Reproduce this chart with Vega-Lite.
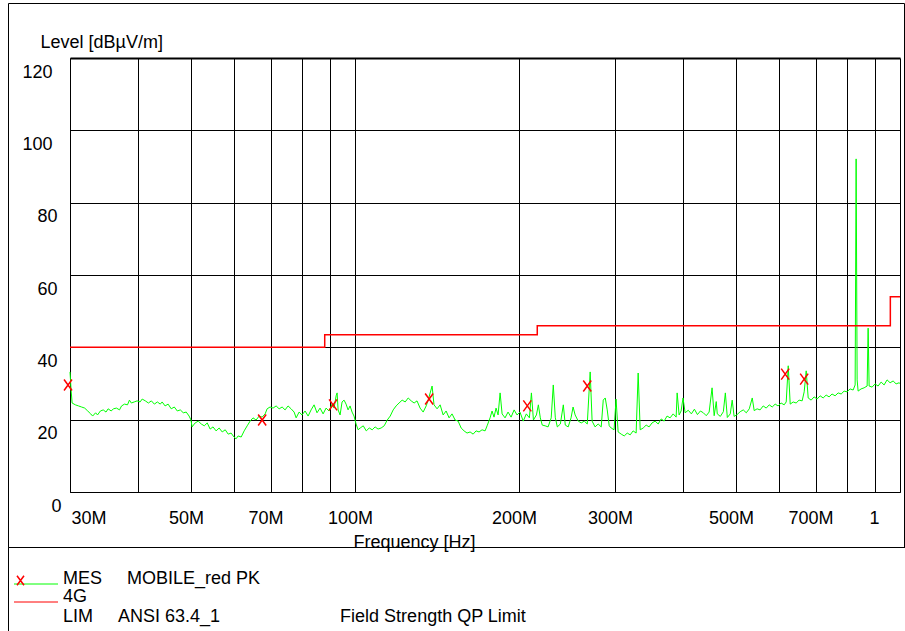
{
  "$schema": "https://vega.github.io/schema/vega-lite/v6.json",
  "width": 896,
  "height": 544,
  "autosize": {"type": "none"},
  "padding": {"left": 8, "top": 3, "right": 1, "bottom": 84},
  "background": "white",
  "config": {
    "view": {"stroke": "black", "strokeWidth": 1},
    "font": "Liberation Sans"
  },
  "datasets": {
    "limit": [
      {"f": 30, "l": 40}, {"f": 88, "l": 43.5}, {"f": 216, "l": 46}, {"f": 960, "l": 54}, {"f": 1000, "l": 54}
    ],
    "peaks": [
      {"f": 29.75, "l": 29.6}, {"f": 67.56, "l": 19.9}, {"f": 91.16, "l": 24.1}, {"f": 136.8, "l": 25.7},
      {"f": 207.1, "l": 23.8}, {"f": 266.8, "l": 29.3}, {"f": 615.7, "l": 32.6}, {"f": 667.1, "l": 31.2}
    ],
    "trace": [
      {"f":30.0,"l":33.2},{"f":30.14,"l":28.2},{"f":30.27,"l":24.6},{"f":30.69,"l":24.1},{"f":31.10,"l":23.8},{"f":31.51,"l":23.5},{"f":31.92,"l":23.2},{"f":32.33,"l":22.4},{"f":32.74,"l":21.6},{"f":33.01,"l":21.0},{"f":33.43,"l":21.9},{"f":33.70,"l":21.3},{"f":34.11,"l":22.4},{"f":34.52,"l":22.7},{"f":34.93,"l":22.1},{"f":35.24,"l":23.0},{"f":35.71,"l":22.4},{"f":36.03,"l":23.0},{"f":36.51,"l":23.2},{"f":36.98,"l":22.7},{"f":37.30,"l":23.8},{"f":37.77,"l":24.3},{"f":38.25,"l":24.1},{"f":38.56,"l":25.4},{"f":38.88,"l":24.6},{"f":39.35,"l":24.9},{"f":39.83,"l":25.2},{"f":40.34,"l":24.9},{"f":40.70,"l":25.7},{"f":41.24,"l":25.2},{"f":41.78,"l":24.6},{"f":42.31,"l":25.2},{"f":42.85,"l":24.3},{"f":43.39,"l":24.9},{"f":43.93,"l":24.3},{"f":44.28,"l":24.9},{"f":44.83,"l":23.8},{"f":45.41,"l":24.3},{"f":46.01,"l":23.0},{"f":46.61,"l":23.5},{"f":47.21,"l":22.4},{"f":47.81,"l":22.7},{"f":48.42,"l":21.9},{"f":49.02,"l":22.1},{"f":49.62,"l":21.0},{"f":50.02,"l":19.9},{"f":50.24,"l":18.0},
      {"f":50.91,"l":19.1},{"f":51.57,"l":19.6},{"f":52.24,"l":18.8},{"f":52.90,"l":18.3},{"f":53.57,"l":19.1},{"f":54.23,"l":17.4},{"f":54.90,"l":18.0},{"f":55.61,"l":16.9},{"f":56.34,"l":17.7},{"f":57.07,"l":16.6},{"f":57.80,"l":17.2},{"f":58.53,"l":16.0},{"f":59.25,"l":16.3},{"f":59.99,"l":15.2},{"f":60.51,"l":14.7},{"f":61.04,"l":15.5},{"f":61.83,"l":15.2},{"f":62.62,"l":16.9},{"f":63.42,"l":18.3},{"f":64.21,"l":19.6},{"f":65.0,"l":20.5},{"f":65.85,"l":19.9},{"f":66.71,"l":21.0},{"f":67.56,"l":20.7},{"f":68.42,"l":21.6},{"f":68.99,"l":23.0},{"f":69.84,"l":23.5},{"f":70.75,"l":23.2},{"f":71.67,"l":23.8},{"f":72.59,"l":23.0},{"f":73.51,"l":23.5},{"f":74.43,"l":22.7},{"f":75.37,"l":23.8},{"f":76.35,"l":23.0},{"f":77.33,"l":22.1},{"f":77.99,"l":20.5},{"f":78.97,"l":22.1},{"f":79.95,"l":21.3},{"f":80.99,"l":22.4},{"f":82.04,"l":21.0},{"f":83.08,"l":22.7},{"f":84.13,"l":24.1},{"f":85.18,"l":21.9},{"f":86.29,"l":23.2},{"f":87.40,"l":21.6},{"f":88.51,"l":23.2},{"f":89.62,"l":22.4},{"f":90.77,"l":24.3},{"f":91.55,"l":23.2},{"f":92.34,"l":26.6},{"f":92.73,"l":27.4},{"f":93.12,"l":22.7},{"f":93.90,"l":21.3},{"f":94.69,"l":24.9},{"f":95.49,"l":25.4},{"f":96.31,"l":24.3},{"f":97.13,"l":22.7},{"f":97.95,"l":23.8},{"f":98.78,"l":22.1},{"f":99.60,"l":21.0},{"f":100.46,"l":18.8},{"f":101.34,"l":17.2},
      {"f":102.23,"l":17.7},{"f":103.56,"l":18.3},{"f":104.89,"l":16.9},{"f":106.22,"l":17.7},{"f":107.55,"l":17.2},{"f":108.88,"l":18.0},{"f":110.23,"l":17.4},{"f":111.68,"l":17.7},{"f":113.14,"l":18.3},{"f":114.60,"l":19.9},{"f":116.06,"l":21.0},{"f":117.51,"l":22.7},{"f":118.97,"l":23.8},{"f":120.46,"l":24.6},{"f":122.05,"l":25.4},{"f":123.63,"l":24.9},{"f":125.21,"l":26.0},{"f":126.80,"l":25.2},{"f":128.38,"l":24.6},{"f":129.96,"l":25.2},{"f":131.67,"l":23.2},{"f":133.38,"l":22.1},{"f":135.09,"l":23.8},{"f":136.23,"l":25.4},{"f":138.51,"l":29.3},{"f":139.65,"l":24.1},{"f":141.46,"l":23.0},{"f":143.30,"l":24.1},{"f":145.13,"l":21.3},{"f":146.97,"l":22.4},{"f":148.81,"l":20.5},{"f":150.69,"l":21.6},{"f":152.66,"l":19.9},{"f":154.62,"l":19.6},{"f":156.59,"l":17.7},{"f":158.55,"l":16.9},{"f":160.55,"l":16.3},{"f":162.64,"l":16.6},{"f":164.73,"l":16.0},{"f":166.82,"l":16.9},{"f":168.91,"l":16.6},{"f":171.06,"l":17.2},{"f":173.27,"l":16.9},{"f":174.75,"l":18.3},{"f":176.97,"l":20.5},{"f":178.45,"l":22.4},{"f":179.93,"l":20.7},{"f":181.49,"l":23.2},{"f":183.05,"l":21.3},{"f":184.62,"l":27.4},{"f":186.18,"l":21.6},{"f":188.52,"l":20.5},{"f":190.91,"l":22.1},{"f":193.39,"l":20.7},{"f":195.86,"l":22.7},{"f":198.33,"l":21.3},{"f":200.80,"l":22.1},
      {"f":203.56,"l":19.6},{"f":206.25,"l":21.6},{"f":208.94,"l":20.5},{"f":210.73,"l":27.4},{"f":212.53,"l":19.9},{"f":215.22,"l":21.3},{"f":217.01,"l":24.1},{"f":218.81,"l":20.5},{"f":220.60,"l":18.5},{"f":223.29,"l":18.3},{"f":226.10,"l":18.0},{"f":229.11,"l":20.5},{"f":231.11,"l":29.6},{"f":233.12,"l":20.5},{"f":235.12,"l":18.0},{"f":238.13,"l":18.8},{"f":241.13,"l":24.1},{"f":243.14,"l":18.5},{"f":246.14,"l":18.0},{"f":249.15,"l":20.5},{"f":251.27,"l":23.5},{"f":253.49,"l":21.3},{"f":256.82,"l":19.6},{"f":260.14,"l":19.1},{"f":263.47,"l":19.6},{"f":266.79,"l":18.8},{"f":270.12,"l":33.2},{"f":272.33,"l":19.6},{"f":275.73,"l":18.0},{"f":279.37,"l":18.8},{"f":283.01,"l":18.0},{"f":285.44,"l":25.4},{"f":287.86,"l":26.0},{"f":290.29,"l":22.7},{"f":292.72,"l":18.3},{"f":295.15,"l":17.7},{"f":298.79,"l":17.2},{"f":301.32,"l":25.7},{"f":303.97,"l":16.6},{"f":307.94,"l":16.0},{"f":311.91,"l":15.5},{"f":315.87,"l":16.3},{"f":319.84,"l":15.8},{"f":323.81,"l":16.9},{"f":327.98,"l":16.3},{"f":330.82,"l":32.9},{"f":333.66,"l":17.2},{"f":337.93,"l":17.7},{"f":342.19,"l":18.5},{"f":346.45,"l":18.0},{"f":350.77,"l":19.1},{"f":355.37,"l":19.6},{"f":359.97,"l":18.8},{"f":364.57,"l":20.2},{"f":369.17,"l":19.6},{"f":373.77,"l":21.0},{"f":378.60,"l":20.5},{"f":383.50,"l":21.6},{"f":388.41,"l":20.7},{"f":390.04,"l":27.4},{"f":393.31,"l":21.3},{"f":396.58,"l":22.4},{"f":399.85,"l":26.0},{"f":403.43,"l":21.9},
      {"f":408.81,"l":22.6},{"f":414.19,"l":21.6},{"f":419.57,"l":22.9},{"f":424.95,"l":21.4},{"f":430.33,"l":22.4},{"f":435.71,"l":21.9},{"f":441.09,"l":21.1},{"f":446.47,"l":22.1},{"f":452.06,"l":28.8},{"f":456.07,"l":21.1},{"f":460.1,"l":25.0},{"f":462.10,"l":21.6},{"f":468.10,"l":20.9},{"f":474.12,"l":22.2},{"f":478.13,"l":27.4},{"f":482.14,"l":20.6},{"f":488.15,"l":21.6},{"f":492.16,"l":25.4},{"f":496.17,"l":20.9},{"f":502.42,"l":21.4},{"f":509.07,"l":22.2},{"f":515.71,"l":22.7},{"f":522.36,"l":21.9},{"f":529.01,"l":23.0},{"f":535.66,"l":26.0},{"f":540.09,"l":22.5},{"f":546.74,"l":23.0},{"f":553.72,"l":22.7},{"f":561.00,"l":23.8},{"f":568.29,"l":23.2},{"f":575.57,"l":24.1},{"f":582.86,"l":23.5},{"f":590.14,"l":24.3},{"f":597.43,"l":23.8},{"f":605.12,"l":24.6},{"f":613.04,"l":24.1},{"f":618.32,"l":24.9},{"f":623.60,"l":34.9},{"f":628.88,"l":24.3},{"f":636.80,"l":24.9},{"f":644.72,"l":24.6},{"f":652.85,"l":25.4},{"f":661.40,"l":25.2},{"f":667.09,"l":27.7},{"f":672.79,"l":33.5},{"f":678.49,"l":26.0},{"f":687.04,"l":25.4},{"f":695.58,"l":26.3},{"f":704.44,"l":25.7},{"f":713.63,"l":26.6},{"f":722.81,"l":26.0},{"f":732.00,"l":26.8},{"f":741.18,"l":26.3},{"f":750.39,"l":27.1},{"f":760.22,"l":26.6},{"f":770.04,"l":27.4},{"f":779.86,"l":27.1},{"f":789.69,"l":27.9},{"f":799.48,"l":27.7},{"f":809.93,"l":28.5},{"f":820.38,"l":28.2},{"f":827.35,"l":29.6},{"f":830.84,"l":92.1},{"f":834.32,"l":31.0},{"f":837.80,"l":27.9},{"f":848.26,"l":28.5},{"f":859.24,"l":28.8},{"f":870.33,"l":29.3},{"f":874.02,"l":45.3},{"f":877.72,"l":29.3},{"f":888.80,"l":29.0},{"f":899.88,"l":29.9},{"f":911.63,"l":29.3},{"f":923.37,"l":30.4},{"f":935.12,"l":29.6},{"f":946.87,"l":31.0},{"f":959.04,"l":30.2},{"f":971.36,"l":30.7},{"f":983.69,"l":29.9},{"f":996.02,"l":30.2},{"f":1000,"l":30.0}
    ]
  },
  "encoding": {
    "x": {
      "field": "f",
      "type": "quantitative",
      "scale": {"type": "log", "domain": [30, 1000], "range": [62, 892], "nice": false, "zero": false},
      "axis": {
        "values": [30, 40, 50, 60, 70, 80, 90, 100, 200, 300, 400, 500, 600, 700, 800, 900, 1000],
        "labelExpr": "datum.value == 30 ? '30M' : datum.value == 50 ? '50M' : datum.value == 70 ? '70M' : datum.value == 100 ? '100M' : datum.value == 200 ? '200M' : datum.value == 300 ? '300M' : datum.value == 500 ? '500M' : datum.value == 700 ? '700M' : datum.value == 1000 ? '1' : ''",
        "offset": -55,
        "ticks": false,
        "tickSize": 0,
        "domain": true,
        "domainColor": "black",
        "domainWidth": 1,
        "grid": true,
        "gridColor": "black",
        "gridOpacity": 1,
        "gridWidth": 1,
        "labelFont": "Liberation Sans",
        "labelFontSize": 18,
        "labelColor": "black",
        "labelBaseline": "middle",
        "labelPadding": 26,
        "labelAlign": {"condition": {"test": "datum.value == 30", "value": "left"}, "value": "center"},
        "labelOffset": {"condition": [{"test": "datum.value == 30", "value": 1}, {"test": "datum.value == 1000", "value": -26}], "value": -5},
        "labelFlush": false,
        "labelOverlap": false,
        "labelBound": false,
        "title": "Frequency [Hz]",
        "titleFont": "Liberation Sans",
        "titleFontSize": 18,
        "titleFontWeight": "normal",
        "titleColor": "black",
        "titleX": 406,
        "titleY": 55,
        "titleAlign": "center",
        "titleBaseline": "alphabetic"
      }
    },
    "y": {
      "field": "l",
      "type": "quantitative",
      "scale": {"domain": [0, 120], "range": [489, 55], "nice": false, "zero": false},
      "axis": {
        "values": [0, 20, 40, 60, 80, 100, 120],
        "offset": -62,
        "ticks": false,
        "tickSize": 0,
        "domain": true,
        "domainColor": "black",
        "grid": true,
        "gridColor": "black",
        "gridOpacity": 1,
        "gridWidth": {"condition": {"test": "datum.value == 120", "value": 2}, "value": 1},
        "labelFont": "Liberation Sans",
        "labelFontSize": 18,
        "labelColor": "black",
        "labelAlign": "right",
        "labelBaseline": "middle",
        "labelOffset": 14,
        "labelPadding": {"condition": [{"test": "datum.value >= 100", "value": 18}, {"test": "datum.value >= 10", "value": 13}], "value": 9},
        "labelFlush": false,
        "labelOverlap": false,
        "labelBound": false,
        "title": "Level [dBµV/m]",
        "titleFont": "Liberation Sans",
        "titleFontSize": 18,
        "titleFontWeight": "normal",
        "titleColor": "black",
        "titleAngle": 0,
        "titleAlign": "left",
        "titleBaseline": "middle",
        "titleX": -30,
        "titleY": 39
      }
    }
  },
  "layer": [
    {
      "data": {"name": "trace"},
      "mark": {"type": "line", "strokeWidth": 1, "interpolate": "linear"},
      "encoding": {
        "color": {
          "datum": "MES",
          "type": "nominal",
          "scale": {"domain": ["MES", "LIM"], "range": ["#00ff00", "#ff0000"]},
          "legend": {
            "orient": "none",
            "legendX": 0,
            "legendY": 544,
            "direction": "vertical",
            "strokeColor": "black",
            "padding": 14,
            "title": "\u00a0",
            "titleFontSize": 10,
            "titlePadding": 4,
            "symbolType": "M-5.5,0H5.5",
            "symbolSize": 64,
            "symbolStrokeWidth": 1,
            "symbolOffset": 5,
            "labelOffset": 18,
            "labelFont": "Liberation Sans",
            "labelFontSize": 18,
            "labelColor": "black",
            "labelBaseline": "alphabetic",
            "labelLimit": 3000,
            "rowPadding": 0,
            "labelExpr": "datum.label == 'MES' ? 'MES\u00a0\u00a0\u00a0\u00a0\u00a0MOBILE_red PK' : ['4G', 'LIM\u00a0\u00a0\u00a0\u00a0\u00a0ANSI 63.4_1\u00a0\u00a0\u00a0\u00a0\u00a0\u00a0\u00a0\u00a0\u00a0\u00a0\u00a0\u00a0\u00a0\u00a0\u00a0\u00a0\u00a0\u00a0\u00a0\u00a0\u00a0\u00a0\u00a0\u00a0Field Strength QP Limit\u00a0\u00a0\u00a0\u00a0\u00a0\u00a0\u00a0\u00a0\u00a0\u00a0\u00a0\u00a0\u00a0\u00a0\u00a0\u00a0\u00a0\u00a0\u00a0\u00a0\u00a0\u00a0\u00a0\u00a0\u00a0\u00a0\u00a0\u00a0\u00a0\u00a0\u00a0\u00a0\u00a0\u00a0\u00a0\u00a0\u00a0\u00a0\u00a0\u00a0\u00a0\u00a0\u00a0\u00a0\u00a0\u00a0\u00a0\u00a0\u00a0\u00a0\u00a0\u00a0\u00a0\u00a0\u00a0\u00a0\u00a0\u00a0\u00a0\u00a0\u00a0\u00a0\u00a0\u00a0\u00a0\u00a0\u00a0\u00a0\u00a0\u00a0\u00a0\u00a0\u00a0\u00a0\u200b']"
          }
        }
      }
    },
    {
      "data": {"name": "limit"},
      "mark": {"type": "line", "strokeWidth": 1.5, "interpolate": "step-after"},
      "encoding": {
        "color": {"datum": "LIM", "type": "nominal"}
      }
    },
    {
      "data": {"name": "peaks"},
      "mark": {"type": "point", "filled": false, "stroke": "#ff0000", "strokeWidth": 1.5, "size": 64, "opacity": 1},
      "encoding": {
        "shape": {
          "datum": "MES",
          "type": "nominal",
          "scale": {"domain": ["MES"], "range": ["M-1,-1.375L1,1.375M-1,1.375L1,-1.375"]},
          "legend": {
            "orient": "none",
            "legendX": 8,
            "legendY": 573,
            "title": null,
            "padding": 0,
            "symbolSize": 49,
            "symbolStrokeColor": "#ff0000",
            "symbolFillColor": "transparent",
            "symbolStrokeWidth": 1.5,
            "symbolOffset": 0,
            "labelFontSize": 1,
            "labelExpr": "''"
          }
        }
      }
    }
  ]
}
